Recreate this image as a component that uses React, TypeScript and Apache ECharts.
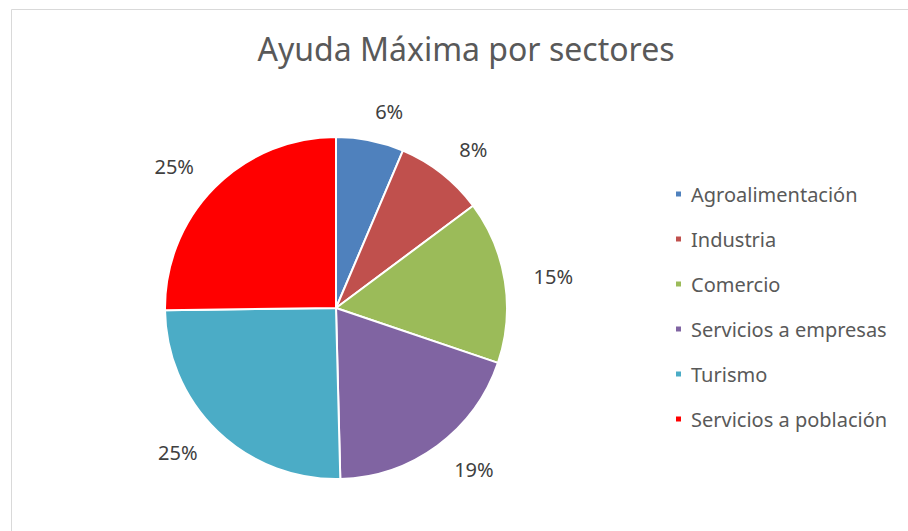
import React, { useEffect, useRef } from "react";
import * as echarts from "echarts";

const titleText = "Ayuda Máxima por sectores";
const categories = [
  "Agroalimentación",
  "Industria",
  "Comercio",
  "Servicios a empresas",
  "Turismo",
  "Servicios a población",
];
const values = [6.4, 8.4, 15.4, 19.4, 25.2, 25.2];
const colors = ["#4F81BD", "#C0504D", "#9BBB59", "#8064A2", "#4BACC6", "#FF0000"];

export default function App() {
  const ref = useRef<HTMLDivElement>(null);
  useEffect(() => {
    if (!ref.current) return;
    const chart = echarts.init(ref.current, null, { renderer: "svg" });
    const font = "Noto Sans";
    chart.setOption({
      animation: false,
      backgroundColor: "#ffffff",
      title: {
        text: titleText,
        left: 466,
        top: 32,
        textAlign: "center",
        padding: 0,
        textStyle: { fontFamily: font, fontSize: 32, fontWeight: "normal", color: "#595959" },
      },
      legend: {
        orient: "vertical",
        left: 674,
        top: 184,
        padding: 0,
        itemWidth: 7,
        itemHeight: 7,
        itemGap: 25,
        icon: "rect",
        data: categories,
        textStyle: {
          fontFamily: font,
          fontSize: 20,
          color: "#595959",
          lineHeight: 20,
          padding: [0, 0, 0, 4],
        },
      },
      graphic: [
        {
          type: "rect",
          shape: { x: 11.5, y: 9.5, width: 1000, height: 1000 },
          style: { fill: "none", stroke: "#d9d9d9", lineWidth: 1 },
          silent: true,
        },
      ],
      series: [
        {
          type: "pie",
          center: [336, 308],
          radius: 171,
          startAngle: 90,
          clockwise: true,
          avoidLabelOverlap: false,
          itemStyle: { borderColor: "#ffffff", borderWidth: 2 },
          label: {
            show: true,
            position: "outside",
            fontFamily: font,
            fontSize: 20,
            color: "#404040",
            formatter: (p: any) => Math.round(p.value) + "%",
          },
          labelLine: { show: false, length: 30, length2: -6 },
          data: categories.map((c, i) => ({
            name: c,
            value: values[i],
            itemStyle: { color: colors[i] },
          })),
        },
      ],
    });
    return () => chart.dispose();
  }, []);
  return (
    <div
      ref={ref}
      style={{ position: "fixed", left: 0, top: 0, width: 908, height: 531 }}
    />
  );
}
